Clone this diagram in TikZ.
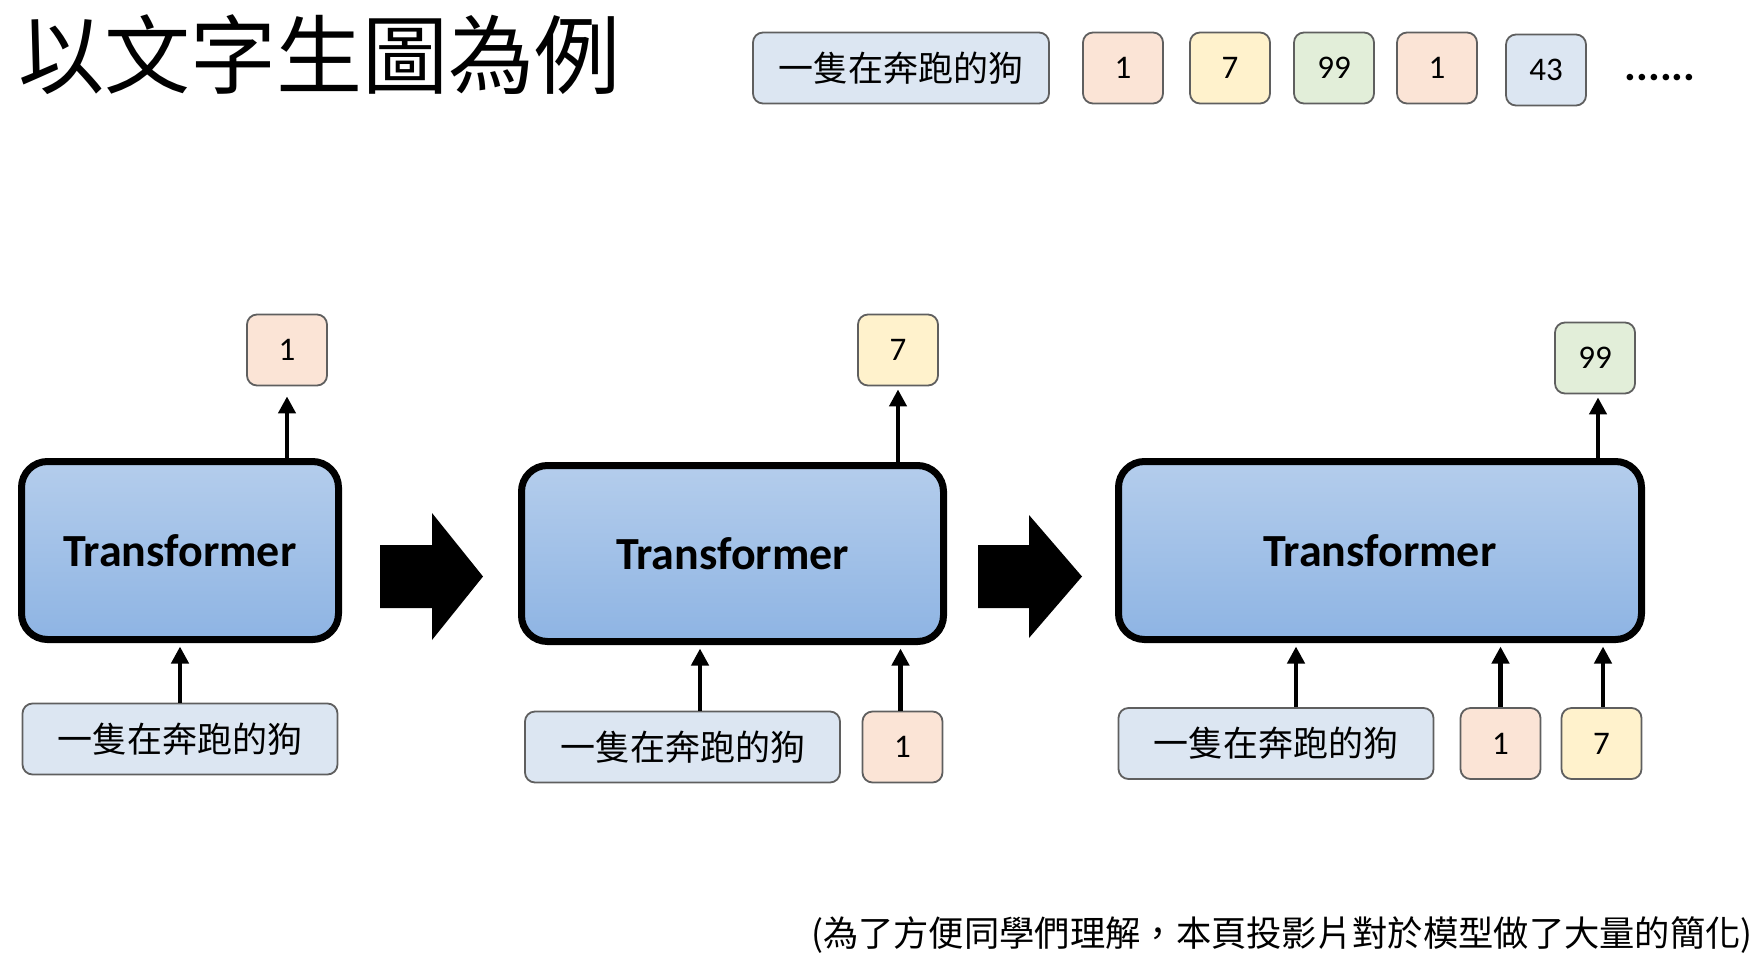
\documentclass[tikz,border=0pt]{standalone}
\usepackage{fontspec}
\setmainfont{Carlito}
\newfontfamily\cjk{Noto Sans CJK TC}
\usetikzlibrary{arrows.meta}
\definecolor{tTop}{RGB}{180,205,236}
\definecolor{tBot}{RGB}{142,180,227}
\definecolor{cBlue}{RGB}{220,230,242}
\definecolor{cPeach}{RGB}{251,228,214}
\definecolor{cYellow}{RGB}{255,242,204}
\definecolor{cGreen}{RGB}{226,238,217}
\definecolor{bgray}{RGB}{95,95,95}
\begin{document}
\begin{tikzpicture}[x=1pt,y=-1pt,
  tbox/.style={draw=black, line width=7pt, rounded corners=26pt, top color=tTop, bottom color=tBot,
    minimum height=178pt, inner sep=0pt, font=\fontsize{46}{50}\selectfont\bfseries},
  txtbox/.style={draw=bgray, line width=1.8pt, rounded corners=10pt, fill=cBlue,
    minimum width=315pt, minimum height=71pt, inner sep=0pt, font=\cjk\fontsize{35}{40}\selectfont},
  num/.style={draw=bgray, line width=1.8pt, rounded corners=10pt,
    minimum width=80pt, minimum height=71pt, inner sep=0pt, font=\fontsize{33}{36}\selectfont},
  arr/.style={line width=4.5pt, -{Triangle[width=17pt,length=17pt]}},
  blockarrow/.style={fill=black}
]
\useasboundingbox (0,0) rectangle (1756,956);

% title
\node[font=\cjk\fontsize{86}{92}\selectfont, inner sep=0pt] (title) at (320,55) {以文字生圖為例};

% top row
\node[txtbox, minimum width=296pt] (seq) at (901,68) {一隻在奔跑的狗};
\node[num, fill=cPeach] (s1) at (1123,68) {1};
\node[num, fill=cYellow] (s2) at (1230,68) {7};
\node[num, fill=cGreen] (s3) at (1334,68) {99};
\node[num, fill=cPeach] (s4) at (1437,68) {1};
\node[num, fill=cBlue] (s5) at (1546,70) {43};
\node[font=\fontsize{44}{48}\selectfont\bfseries, inner sep=0pt, anchor=base] (dots) at (1660,80) {......};

% panel 1
\node[tbox, minimum width=317pt] (T1) at (180,550.5) {Transformer};
\node[num, fill=cPeach] (o1) at (287,350) {1};
\node[txtbox] (i1) at (180,739) {一隻在奔跑的狗};
\draw[arr, shorten >=10pt] (o1.south |- T1.north) -- (o1.south);
\draw[arr, shorten >=3.5pt] (i1.north) -- (i1.north |- T1.south);

% block arrow 1
\fill[blockarrow] (380,545) -- (432,545) -- (432,513) -- (483,576.5) -- (432,640) -- (432,608) -- (380,608) -- cycle;

% panel 2
\node[tbox, minimum width=422pt, minimum height=176pt] (T2) at (732.5,553.5) {Transformer};
\node[num, fill=cYellow] (o2) at (898,350) {7};
\node[txtbox] (i2) at (682.5,747) {一隻在奔跑的狗};
\node[num, fill=cPeach] (i2b) at (902.5,747) {1};
\draw[arr, shorten >=3pt] (o2.south |- T2.north) -- (o2.south);
\draw[arr, shorten >=3.5pt] ([xshift=17.5pt]i2.north) -- ([xshift=17.5pt]i2.north |- T2.south);
\draw[arr, shorten >=3.5pt] ([xshift=-2pt]i2b.north) -- ([xshift=-2pt]i2b.north |- T2.south);

% block arrow 2
\fill[blockarrow] (978,545) -- (1029,545) -- (1029,515) -- (1082,576.5) -- (1029,638) -- (1029,608) -- (978,608) -- cycle;

% panel 3
\node[tbox, minimum width=523pt] (T3) at (1380,550.5) {Transformer};
\node[num, fill=cGreen] (o3) at (1595,358) {99};
\node[txtbox] (i3) at (1276,743.5) {一隻在奔跑的狗};
\node[num, fill=cPeach] (i3b) at (1500.5,743.5) {1};
\node[num, fill=cYellow] (i3c) at (1601.5,743.5) {7};
\draw[arr, shorten >=3pt] ([xshift=3pt]o3.south |- T3.north) -- ([xshift=3pt]o3.south);
\draw[arr, shorten >=3.5pt] ([xshift=20pt]i3.north) -- ([xshift=20pt]i3.north |- T3.south);
\draw[arr, shorten >=3.5pt] (i3b.north) -- (i3b.north |- T3.south);
\draw[arr, shorten >=3.5pt] ([xshift=1.5pt]i3c.north) -- ([xshift=1.5pt]i3c.north |- T3.south);

% footnote
\node[font=\cjk\fontsize{35.3}{40}\selectfont, inner sep=0pt, anchor=east] (note) at (1753,935) {(為了方便同學們理解，本頁投影片對於模型做了大量的簡化)};
\end{tikzpicture}
\end{document}
